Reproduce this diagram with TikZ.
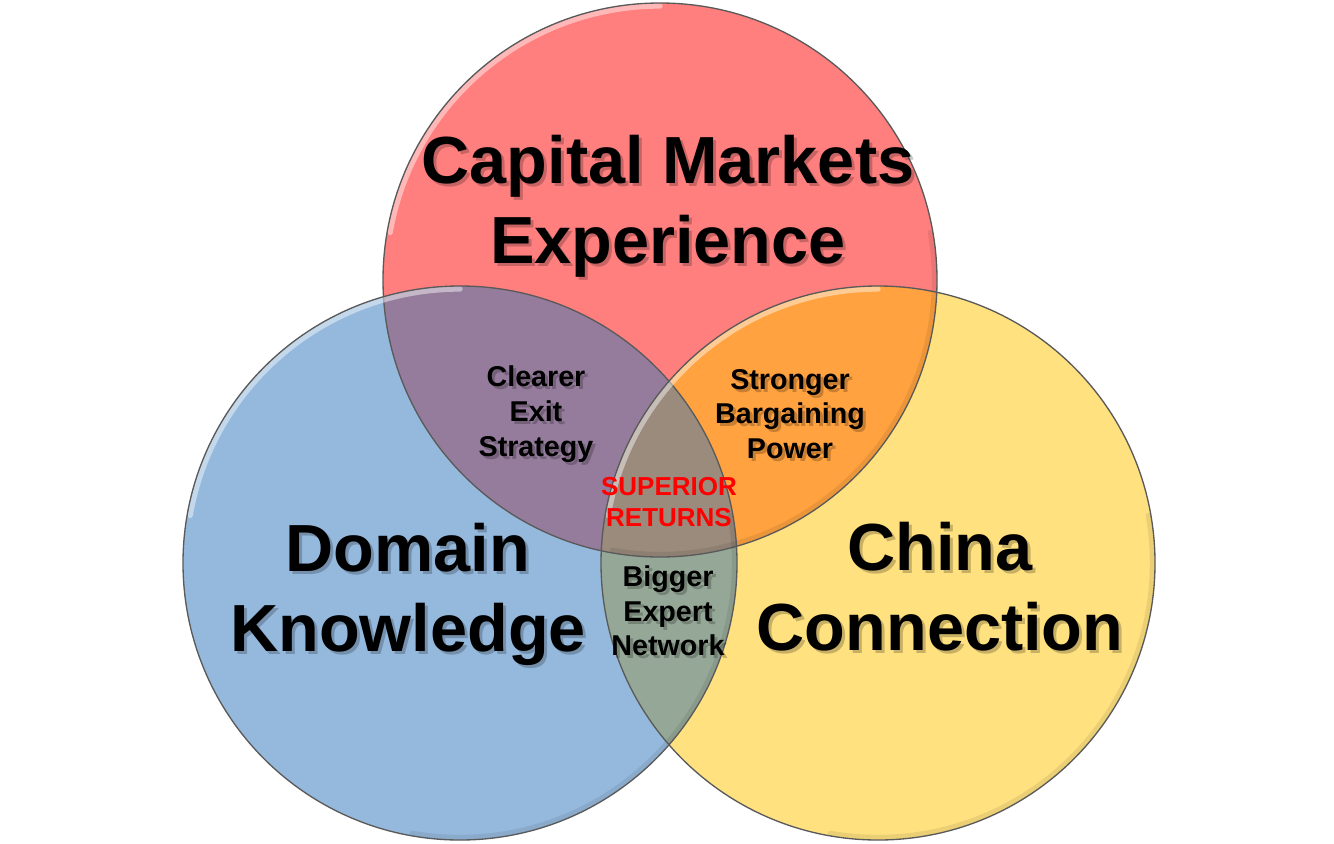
\documentclass[tikz,border=0pt]{standalone}
\usepackage{fontspec}
\setmainfont{Liberation Sans}

\definecolor{capred}{RGB}{255,127,127}
\definecolor{domblue}{RGB}{149,185,221}
\definecolor{chiyellow}{RGB}{255,225,127}
\definecolor{redblue}{RGB}{149,124,156}
\definecolor{redyellow}{RGB}{255,162,63}
\definecolor{blueyellow}{RGB}{149,168,151}
\definecolor{allthree}{RGB}{154,139,124}
\definecolor{rimgray}{RGB}{90,90,90}
\definecolor{supred}{RGB}{255,0,0}

\tikzset{every picture/.style={line width=0.75pt}}
\tikzset{
  bigtext/.style={font=\fontsize{50}{60}\selectfont\bfseries, align=center},
  smalltext/.style={font=\fontsize{21.5}{26}\selectfont\bfseries, align=center},
  redtext/.style={font=\fontsize{19.5}{23.5}\selectfont\bfseries, align=center, text=supred},
  rim/.style={draw=rimgray, line width=1},
  gloss/.style={draw=white, line width=4, opacity=0.45, line cap=round},
  shade/.style={draw=black, line width=4, opacity=0.08, line cap=round},
}

% text with a soft drop shadow
\newcommand{\venntext}[4]{%
  \node [#2, text=black, opacity=0.22] (#1-sh) at ([shift={(3,3)}]#3) {#4};
  \node [#2] (#1) at (#3) {#4};
}

\begin{document}
\begin{tikzpicture}[x=0.75pt,y=0.75pt,yscale=-1,xscale=1]
\useasboundingbox (0,0) rectangle (1334,843);

\coordinate (capital) at (660,280);
\coordinate (domain) at (460,563);
\coordinate (china) at (878,563);

%Shape: Circle [capital markets]
\fill [capred] (capital) circle (277);
%Shape: Circle [domain knowledge]
\fill [domblue] (domain) circle (277);
%Shape: Circle [china connection]
\fill [chiyellow] (china) circle (277);

%Overlaps
\begin{scope}
\clip (capital) circle (277);
\fill [redblue] (domain) circle (277);
\fill [redyellow] (china) circle (277);
\end{scope}
\begin{scope}
\clip (domain) circle (277);
\fill [blueyellow] (china) circle (277);
\clip (capital) circle (277);
\fill [allthree] (china) circle (277);
\end{scope}

%Rims
\foreach \c in {capital,domain,china}{
  \draw [shade] (\c) ++(-10:274.5) arc [start angle=-10, end angle=100, radius=274.5];
  \draw [gloss] (\c) ++(190:274) arc [start angle=190, end angle=270, radius=274];
  \draw [rim] (\c) circle (277);
}

% Text Node
\venntext{captext}{bigtext}{668,206}{Capital Markets\\Experience}
% Text Node
\venntext{domtext}{bigtext}{408,594}{Domain\\Knowledge}
% Text Node
\venntext{chitext}{bigtext}{940,587}{China\\Connection}
% Text Node
\venntext{exittext}{smalltext}{536,414}{Clearer\\Exit\\Strategy}
% Text Node
\venntext{bargtext}{smalltext}{790,414}{Stronger\\Bargaining\\Power}
% Text Node
\venntext{experttext}{smalltext}{668,611}{Bigger\\Expert\\Network}
% Text Node
\node [redtext] (suptext) at (669,502) {SUPERIOR\\RETURNS};

\end{tikzpicture}
\end{document}
